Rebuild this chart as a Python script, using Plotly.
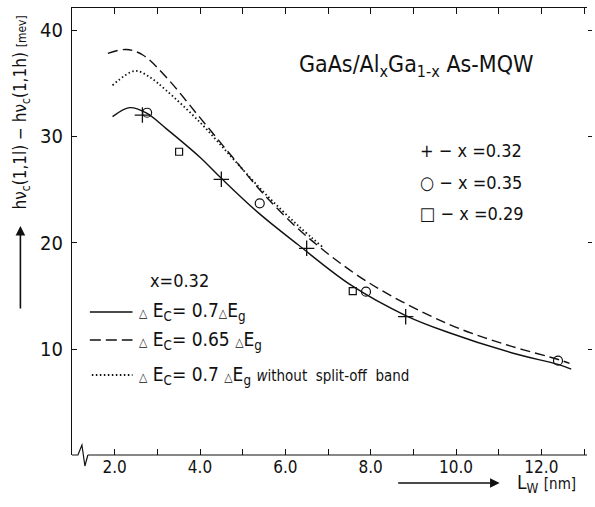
import plotly.graph_objects as go

# ---------------- data ----------------
solid_x = [1.95, 2.35, 2.74, 3.2, 3.98, 4.5, 5.37, 6.3, 7.54, 8.82, 9.79, 11.34, 12.39, 12.7]
solid_y = [31.85, 32.7, 32.2, 30.75, 28.1, 26.05, 22.8, 19.8, 16.0, 13.15, 11.6, 9.6, 8.55, 8.1]

dashed_x = [1.84, 2.27, 2.66, 3.2, 3.98, 4.75, 5.53, 6.5, 7.93, 9.79, 11.1, 12.43, 12.66]
dashed_y = [37.8, 38.17, 37.65, 35.6, 31.85, 28.1, 24.4, 20.6, 16.3, 12.4, 10.5, 8.97, 8.65]

dotted_x = [1.95, 2.47, 2.81, 3.2, 3.98, 4.75, 5.53, 6.3, 6.9]
dotted_y = [34.8, 36.15, 35.6, 34.35, 31.4, 28.0, 24.6, 21.6, 19.5]

plus_x = [2.65, 4.5, 6.5, 8.82]
plus_y = [32.0, 25.96, 19.47, 13.04]

circle_x = [2.76, 5.4, 7.89, 12.39]
circle_y = [32.22, 23.7, 15.39, 8.9]

square_x = [3.51, 7.58]
square_y = [28.55, 15.45]

x_ticks = [2, 4, 6, 8, 10, 12]
x_ticklabels = ["2.0", "4.0", "6.0", "8.0", "10.0", "12.0"]
x_minor_ticks = [3, 5, 7, 9, 11, 13]
y_ticks = [10, 20, 30, 40]
y_ticklabels = ["10", "20", "30", "40"]

# ---------------- layout geometry ----------------
W, H = 595, 507
L, R, T, B = 72, 591, 8, 455
FONT = "DejaVu Sans Condensed, Liberation Sans Narrow, Liberation Sans, sans-serif"


def px(x):
    return (x - L) / (R - L)


def py(y):
    return (B - y) / (B - T)


fig = go.Figure()
line_col = "#111111"
fig.add_trace(go.Scatter(x=solid_x, y=solid_y, mode="lines", line=dict(color=line_col, width=1.4, shape="spline"), showlegend=False))
fig.add_trace(go.Scatter(x=dashed_x, y=dashed_y, mode="lines", line=dict(color=line_col, width=1.4, dash="10px,5px", shape="spline"), showlegend=False))
fig.add_trace(go.Scatter(x=dotted_x, y=dotted_y, mode="lines", line=dict(color=line_col, width=1.8, dash="1.5px,2.5px", shape="spline"), showlegend=False))
fig.add_trace(go.Scatter(x=plus_x, y=plus_y, mode="markers", marker=dict(symbol="cross-thin-open", size=11, color=line_col, line=dict(color=line_col, width=1.3)), showlegend=False))
fig.add_trace(go.Scatter(x=circle_x, y=circle_y, mode="markers", marker=dict(symbol="circle-open", size=9, color=line_col, line=dict(color=line_col, width=1.2)), showlegend=False))
fig.add_trace(go.Scatter(x=square_x, y=square_y, mode="markers", marker=dict(symbol="square-open", size=7, color=line_col, line=dict(color=line_col, width=1.2)), showlegend=False))
# invisible trace for secondary axes
fig.add_trace(go.Scatter(x=[None], y=[None], xaxis="x2", yaxis="y2", showlegend=False))

xr = [1.0, 1 + (R - L) / 43.0]
yr = [10 - (B - 349) / 10.633, 10 + (349 - T) / 10.633]

minor = dict(tickvals=x_minor_ticks, ticks="inside", ticklen=6, tickcolor=line_col, showgrid=False)
fig.update_layout(
    width=W, height=H,
    margin=dict(l=L, r=W - R, t=T, b=H - B, pad=0),
    paper_bgcolor="white", plot_bgcolor="white",
    font=dict(family=FONT, color="#111111"),
    xaxis=dict(range=xr, tickvals=x_ticks, ticktext=x_ticklabels, ticks="inside", ticklen=6,
               tickcolor=line_col, showline=False, showgrid=False, zeroline=False, minor=minor,
               tickfont=dict(size=17, family=FONT)),
    xaxis2=dict(range=xr, overlaying="x", side="top", tickvals=x_ticks, ticks="inside", ticklen=6,
                tickcolor=line_col, showticklabels=False, showline=True, linecolor=line_col, linewidth=1.2,
                showgrid=False, zeroline=False, minor=minor),
    yaxis=dict(range=yr, tickvals=y_ticks, ticktext=y_ticklabels, ticks="inside", ticklen=5,
               tickcolor=line_col, showline=True, linecolor=line_col, linewidth=1.2,
               showgrid=False, zeroline=False, tickfont=dict(size=20, family=FONT), ticklabelstandoff=4),
    yaxis2=dict(range=yr, overlaying="y", side="right", tickvals=y_ticks, ticks="outside", ticklen=4,
                tickcolor=line_col, showticklabels=False, showline=False, showgrid=False, zeroline=False),
)

shapes = []
# bottom axis line with break
shapes.append(dict(type="line", xref="paper", yref="paper", x0=px(88), x1=1.0, y0=0, y1=0,
                   line=dict(color=line_col, width=1.2)))
shapes.append(dict(type="path", xref="paper", yref="paper",
                   path=f"M {px(72)} {py(455)} L {px(78)} {py(455)} L {px(82)} {py(445)} L {px(85)} {py(466)} L {px(88)} {py(455)}",
                   line=dict(color=line_col, width=1.2)))
# legend samples
shapes.append(dict(type="line", xref="paper", yref="paper", x0=px(90), x1=px(133), y0=py(312), y1=py(312),
                   line=dict(color=line_col, width=1.4)))
shapes.append(dict(type="line", xref="paper", yref="paper", x0=px(90), x1=px(133), y0=py(340), y1=py(340),
                   line=dict(color=line_col, width=1.4, dash="11px,5px")))
shapes.append(dict(type="line", xref="paper", yref="paper", x0=px(92), x1=px(133), y0=py(375), y1=py(375),
                   line=dict(color=line_col, width=1.8, dash="1.5px,2.5px")))
fig.update_layout(shapes=shapes)

ann = []


def text(x, y, s, size, anchor="left"):
    ann.append(dict(xref="paper", yref="paper", x=px(x), y=py(y), text=s, showarrow=False,
                    xanchor=anchor, yanchor="middle", font=dict(size=size, family=FONT, color="#111111")))


text(299, 66, "GaAs/Al<sub>x</sub>Ga<sub>1-x</sub> As-MQW", 23)
text(421, 151, "+ − x =0.32", 18)
text(421, 182, "○ − x =0.35", 18)
text(421, 213, "□ − x =0.29", 18)
text(149, 280, "x=0.32", 18)
tri = "<span style='font-size:12px'>△</span>"
text(138, 311, f"{tri} E<sub>C</sub>= 0.7{tri}E<sub>g</sub>", 19)
text(138, 340, f"{tri} E<sub>C</sub>= 0.65 {tri}E<sub>g</sub>", 19)
text(138, 375, f"{tri} E<sub>C</sub>= 0.7 {tri}E<sub>g</sub> <span style='font-size:15px'><i>w</i>ithout  split-off  band</span>", 19)
text(518, 483, "L<sub>W</sub> <span style='font-size:15px'>[nm]</span>", 19)

# y-axis label (rotated)
ann.append(dict(xref="paper", yref="paper", x=px(22), y=py(112), textangle=-90, showarrow=False,
                xanchor="center", yanchor="middle",
                text="hν<sub>c</sub>(1,1l) − hν<sub>c</sub>(1,1h) <span style='font-size:12px'>[mev]</span>",
                font=dict(size=17, family=FONT, color="#111111")))
# arrows
ann.append(dict(xref="paper", yref="paper", x=px(20), y=py(226), ax=0, ay=84, text="", showarrow=True,
                arrowhead=2, arrowsize=1.2, arrowwidth=1.6, arrowcolor=line_col))
ann.append(dict(xref="paper", yref="paper", x=px(503), y=py(483), ax=-103, ay=0, text="", showarrow=True,
                arrowhead=2, arrowsize=1.2, arrowwidth=1.6, arrowcolor=line_col))
fig.update_layout(annotations=ann)

fig.write_html("out.html")
